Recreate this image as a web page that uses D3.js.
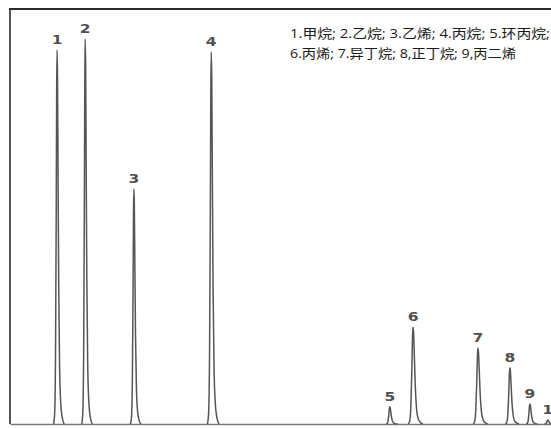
<!DOCTYPE html>
<html>
<head>
<meta charset="utf-8">
<script src="https://cdn.jsdelivr.net/npm/d3@7"></script>
<style>
  html, body { margin: 0; padding: 0; background: #fff; }
  svg { display: block; }
</style>
</head>
<body>
<svg id="chart" width="551" height="428"></svg>
<script>
// Peak numbers, retention times (relative units) and detector response (% of full scale)
const peakLabels = ["1", "2", "3", "4", "5", "6", "7", "8", "9", "10"];
const retention  = [8.7, 13.9, 22.9, 37.2, 70.2, 74.5, 86.5, 92.4, 96.1, 99.4];
const response   = [95.9, 98.7, 60.3, 95.4, 4.4, 24.9, 19.5, 14.4, 5.1, 1.0];
const peakWidth  = [0.2, 0.2, 0.2, 0.22, 0.22, 0.28, 0.28, 0.26, 0.22, 0.2];

// Tailing peak profile: offset in peak-width units and fraction of apex height
const profileOffset = [-3.2, -2.2, -1.4, -0.8, -0.35, 0, 0.4, 0.9, 1.5, 2.3, 3.3, 4.6, 6.5];
const profileLevel  = [0, 0.03, 0.2, 0.55, 0.9, 1, 0.93, 0.68, 0.38, 0.16, 0.06, 0.02, 0];

// Component key
const legendLines = [
  "1.甲烷; 2.乙烷; 3.乙烯; 4.丙烷; 5.环丙烷;",
  "6.丙烯; 7.异丁烷; 8,正丁烷; 9,丙二烯"
];

const svg = d3.select("#chart");
const W = 551, H = 428;
const plotLeft = 10, plotTop = 9, plotBottom = 424;

const x = d3.scaleLinear().domain([0, 100]).range([plotLeft, W]);
const y = d3.scaleLinear().domain([0, 100]).range([plotBottom, 34]);

// frame: heavy top rule, left rule
svg.append("line")
  .attr("x1", plotLeft - 1).attr("x2", W).attr("y1", plotTop).attr("y2", plotTop)
  .attr("stroke", "#2b2b2b").attr("stroke-width", 2.2);
svg.append("line")
  .attr("x1", plotLeft).attr("x2", plotLeft).attr("y1", plotTop).attr("y2", plotBottom)
  .attr("stroke", "#2b2b2b").attr("stroke-width", 1.6);

// baseline axis
svg.append("g")
  .attr("transform", `translate(0,${plotBottom})`)
  .call(d3.axisBottom(x).ticks(0).tickSize(0).tickSizeOuter(0))
  .call(g => g.select(".domain").attr("stroke", "#7a7a7a").attr("stroke-width", 1.3));

// peaks
const peaks = peakLabels.map((lab, i) => ({
  label: lab,
  t: retention[i],
  h: response[i],
  w: peakWidth[i],
  pts: profileOffset.map((o, k) => [retention[i] + o * peakWidth[i], response[i] * profileLevel[k]])
}));

const line = d3.line()
  .x(d => x(d[0]))
  .y(d => y(d[1]))
  .curve(d3.curveMonotoneX);

svg.append("g")
  .selectAll("path")
  .data(peaks)
  .join("path")
  .attr("d", d => line(d.pts))
  .attr("fill", "none")
  .attr("stroke", "#555")
  .attr("stroke-width", 1.5)
  .attr("stroke-linejoin", "round");

// peak numbers
svg.append("g")
  .selectAll("text")
  .data(peaks)
  .join("text")
  .attr("transform", d => `translate(${x(d.t)},${y(d.h) - 6}) scale(1.35,1)`)
  .attr("text-anchor", d => d.label === "10" ? "start" : "middle")
  .attr("dx", d => d.label === "10" ? -4 : 0)
  .attr("font-family", "DejaVu Sans, sans-serif")
  .attr("font-size", 11.5)
  .attr("font-weight", "bold")
  .attr("fill", "#505050")
  .text(d => d.label);

// component key
svg.append("g")
  .selectAll("text")
  .data(legendLines)
  .join("text")
  .attr("x", 290)
  .attr("y", (d, i) => 38 + i * 20)
  .attr("font-family", "'Open Sans', 'Noto Sans CJK SC', sans-serif")
  .attr("font-size", 13)
  .attr("fill", "#1a1a1a")
  .attr("textLength", (d, i) => i === 0 ? 260 : 226)
  .attr("lengthAdjust", "spacingAndGlyphs")
  .text(d => d);
</script>
</body>
</html>
